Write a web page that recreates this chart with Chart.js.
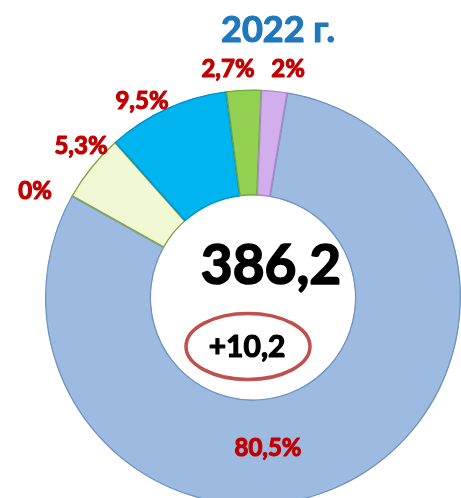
<!DOCTYPE html>
<html><head><meta charset="utf-8">
<script src="https://cdn.jsdelivr.net/npm/chart.js@4/dist/chart.umd.min.js"></script>
<style>html,body{margin:0;padding:0;background:#fff;overflow:hidden;width:461px;height:498px}canvas{display:block}</style>
</head><body>
<canvas id="c" width="461" height="506" style="width:461px;height:506px"></canvas>
<script>
const categories = ['A', 'B', 'C', 'D', 'E', 'F'];
const shares = [80.5, 0, 5.3, 9.5, 2.7, 2];
const shareLabels = ['80,5%', '0%', '5,3%', '9,5%', '2,7%', '2%'];
const title = '2022 г.';
const totalValue = '386,2';
const changeValue = '+10,2';

const fills = ['#9DBBE1', '#9DBBE1', '#F1F8D4', '#00B4F0', '#94D152', '#D3AEEC'];
const edges = ['#7193C0', '#7193C0', '#86A443', '#0092C8', '#6FA83A', '#A989C9'];
const labelPos = [[268, 448], [35, 191], [81, 146], [142, 101], [228, 69], [288, 69]];

function shade(hex, f) {
  const n = parseInt(hex.slice(1), 16);
  let r = n >> 16, g = (n >> 8) & 255, b = n & 255;
  const m = v => f < 0 ? Math.round(v * (1 + f)) : Math.round(v + (255 - v) * f);
  return `rgb(${m(r)},${m(g)},${m(b)})`;
}

function boldText(ctx, t, x, y, color, w) {
  ctx.fillStyle = color;
  ctx.strokeStyle = color;
  ctx.lineWidth = w;
  ctx.lineJoin = 'round';
  ctx.strokeText(t, x, y);
  ctx.fillText(t, x, y);
}

const textPlugin = {
  id: 'texts',
  afterDraw(chart) {
    const ctx = chart.ctx;
    ctx.save();
    ctx.textAlign = 'center';
    ctx.textBaseline = 'middle';
    ctx.font = 'bold 24px Lato';
    shareLabels.forEach((t, i) => boldText(ctx, t, labelPos[i][0], labelPos[i][1], '#C00000', 1.1));
    ctx.font = 'bold 36px Lato';
    boldText(ctx, title, 278, 30, '#1F77BF', 1.2);
    ctx.font = 'bold 55px Lato';
    boldText(ctx, totalValue, 271, 266, '#000', 1.6);
    ctx.font = 'bold 30px Lato';
    boldText(ctx, changeValue, 247, 347, '#000', 1.2);
    ctx.beginPath();
    ctx.ellipse(248, 346.5, 62, 33, 0, 0, Math.PI * 2);
    ctx.lineWidth = 3.5;
    ctx.strokeStyle = '#C0504D';
    ctx.stroke();
    ctx.restore();
  }
};

new Chart(document.getElementById('c'), {
  type: 'doughnut',
  data: {
    labels: categories,
    datasets: [{
      data: shares,
      backgroundColor: (ctx) => {
        const chart = ctx.chart;
        const base = fills[ctx.dataIndex];
        if (!chart.chartArea) return base;
        const el = chart.getDatasetMeta(0).data[ctx.dataIndex];
        if (!el || !el.outerRadius) return base;
        const cx = el.x, cy = el.y, ri = el.innerRadius, ro = el.outerRadius;
        const g = chart.ctx.createRadialGradient(cx, cy, ri, cx, cy, ro);
        g.addColorStop(0, shade(base, 0.6));
        g.addColorStop(0.08, base);
        g.addColorStop(0.88, base);
        g.addColorStop(0.96, shade(base, -0.15));
        g.addColorStop(1, shade(base, -0.4));
        return g;
      },
      borderColor: edges,
      borderWidth: 1,
      borderAlign: 'inner'
    }]
  },
  options: {
    responsive: false,
    animation: false,
    devicePixelRatio: 1,
    rotation: 9.5,
    cutout: '49%',
    layout: { padding: { left: 45, right: 0, top: 89, bottom: 0 } },
    plugins: { legend: { display: false }, tooltip: { enabled: false } }
  },
  plugins: [textPlugin]
});
</script>
</body></html>
